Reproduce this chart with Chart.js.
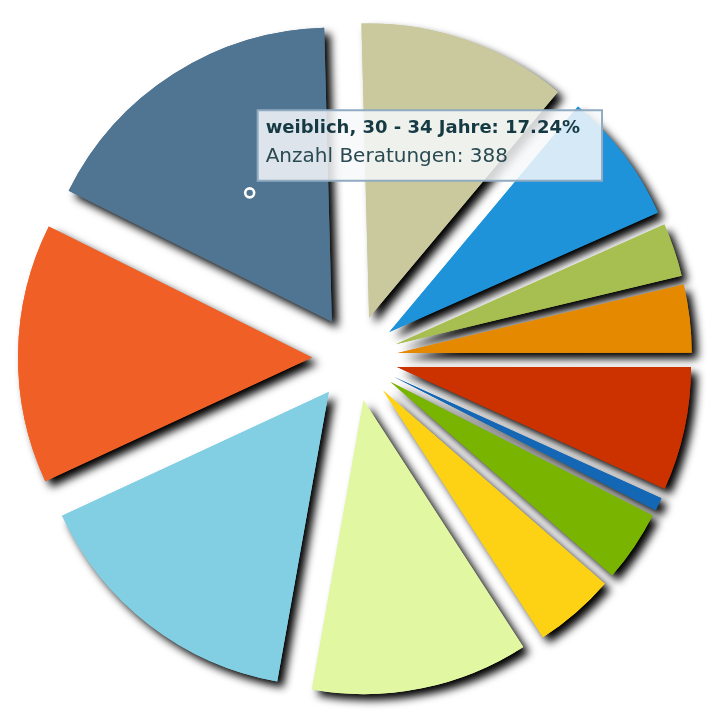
<!DOCTYPE html>
<html>
<head>
<meta charset="utf-8">
<script src="https://cdn.jsdelivr.net/npm/chart.js@4.4.1/dist/chart.umd.min.js"></script>
<style>
  html, body { margin: 0; padding: 0; background: #ffffff; }
  canvas { display: block; }
</style>
</head>
<body>
<canvas id="c" width="709" height="715"></canvas>
<script>
// ---- data ----
const categories = [
  'weiblich, 35 - 39 Jahre',
  'weiblich, 40 - 44 Jahre',
  'weiblich, 45 - 49 Jahre',
  'weiblich, 50 Jahre und älter',
  'männlich, unter 20 Jahre',
  'männlich, 20 - 24 Jahre',
  'männlich, 25 - 29 Jahre',
  'männlich, 30 - 34 Jahre',
  'männlich, 35 Jahre und älter',
  'weiblich, unter 20 Jahre',
  'weiblich, 20 - 29 Jahre',
  'weiblich, 30 - 34 Jahre'
];
const beratungen = [259, 163, 66, 84, 153, 16, 88, 100, 269, 344, 321, 388];
const sliceColors = [
  '#C9C99D', '#1F93D9', '#A7BE51', '#E58900', '#CC3200', '#1467B5',
  '#79B500', '#FED214', '#E1F7A1', '#82CFE3', '#F06026', '#4F7592'
];
const shownIndex = 11;
const bodyPrefix = 'Anzahl Beratungen: ';

const EXPLODE = 43;
const total = beratungen.reduce((a, b) => a + b, 0);

function anchorOf(el) {
  const mid = (el.startAngle + el.endAngle) / 2;
  const r = el.outerRadius * 0.52;
  return { x: el.x + Math.cos(mid) * r, y: el.y + Math.sin(mid) * r };
}

Chart.Tooltip.positioners.sliceAnchor = function (items) {
  if (!items.length) return false;
  const p = anchorOf(items[0].element);
  return { x: p.x + 8, y: p.y };
};

const explodePlugin = {
  id: 'explode',
  afterUpdate(chart) {
    const meta = chart.getDatasetMeta(0);
    meta.data.forEach(arc => {
      const mid = (arc.startAngle + arc.endAngle) / 2;
      arc.x += Math.cos(mid) * EXPLODE;
      arc.y += Math.sin(mid) * EXPLODE;
    });
  },
  beforeDatasetsDraw(chart) {
    const ctx = chart.ctx;
    const meta = chart.getDatasetMeta(0);
    ctx.save();
    ctx.shadowColor = 'rgba(0,0,0,1)';
    ctx.shadowBlur = 8;
    ctx.shadowOffsetX = 6;
    ctx.shadowOffsetY = 6;
    meta.data.forEach(arc => arc.draw(ctx));
    ctx.restore();
  },
  afterDraw(chart) {
    const active = chart.tooltip.getActiveElements();
    if (!active.length) return;
    const p = anchorOf(active[0].element);
    const ctx = chart.ctx;
    ctx.save();
    ctx.beginPath();
    ctx.arc(p.x, p.y, 4.5, 0, Math.PI * 2);
    ctx.lineWidth = 2.6;
    ctx.strokeStyle = '#ffffff';
    ctx.stroke();
    ctx.restore();
  }
};

const chart = new Chart(document.getElementById('c'), {
  type: 'pie',
  data: {
    labels: categories,
    datasets: [{
      data: beratungen,
      backgroundColor: sliceColors,
      hoverBackgroundColor: sliceColors,
      borderWidth: 0,
      hoverBorderWidth: 0,
      hoverOffset: 0
    }]
  },
  options: {
    responsive: false,
    devicePixelRatio: 1,
    animation: false,
    events: [],
    rotation: -1.5,
    layout: { padding: { left: 61, top: 64, right: 60, bottom: 63 } },
    plugins: {
      legend: { display: false },
      title: { display: false },
      tooltip: {
        enabled: true,
        animation: false,
        position: 'sliceAnchor',
        xAlign: 'left',
        yAlign: 'bottom',
        caretSize: 0,
        caretPadding: 12,
        cornerRadius: 0,
        displayColors: false,
        backgroundColor: 'rgba(246,248,250,0.85)',
        borderColor: '#90abc1',
        borderWidth: 2,
        titleColor: '#163a44',
        bodyColor: '#2a4a52',
        titleFont: { family: 'DejaVu Sans', size: 18, weight: 'bold' },
        bodyFont: { family: 'DejaVu Sans', size: 20 },
        titleMarginBottom: 6,
        padding: { top: 7, left: 8, right: 22, bottom: 12 },
        callbacks: {
          title(items) {
            const it = items[0];
            return it.label + ': ' + (it.raw / total * 100).toFixed(2) + '%';
          },
          label(it) {
            return bodyPrefix + it.raw;
          }
        }
      }
    }
  },
  plugins: [explodePlugin]
});

chart.tooltip.setActiveElements([{ datasetIndex: 0, index: shownIndex }], { x: 0, y: 0 });
chart.draw();
</script>
</body>
</html>
